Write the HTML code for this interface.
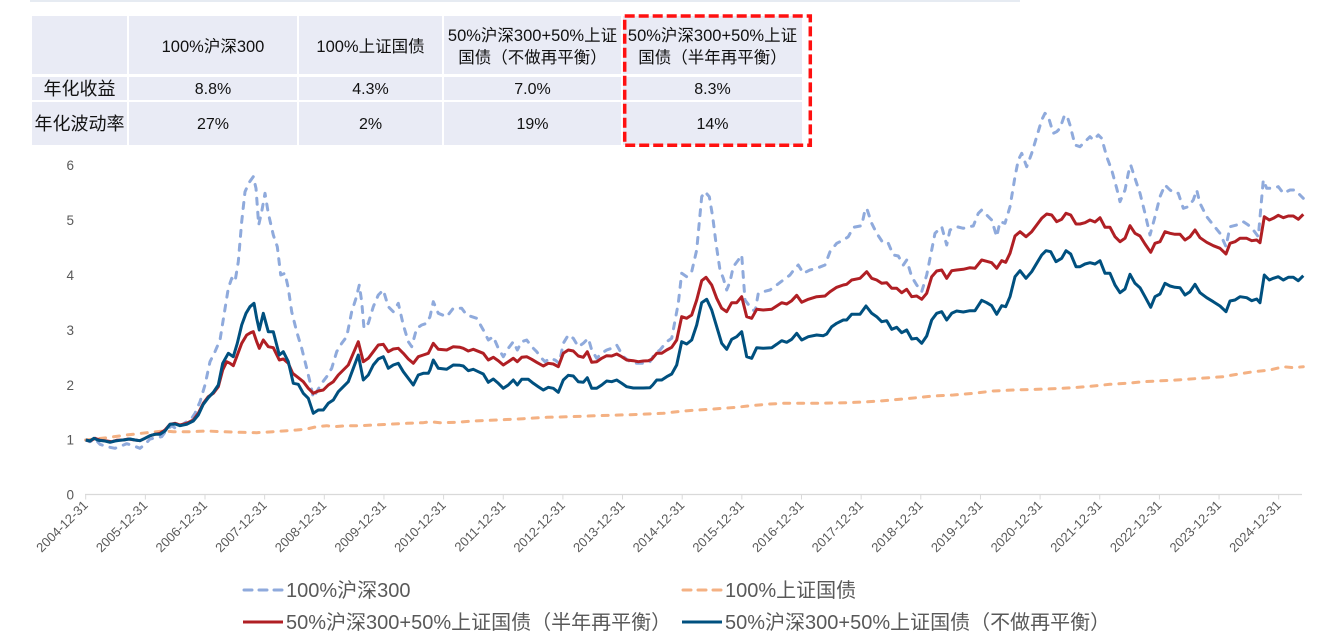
<!DOCTYPE html>
<html><head><meta charset="utf-8">
<style>
html,body{margin:0;padding:0;background:#fff;}
#wrap{position:relative;width:1337px;height:644px;overflow:hidden;font-family:"Liberation Sans","Noto Sans CJK SC",sans-serif;}
.c{position:absolute;box-sizing:border-box;padding-top:3px;background:#E9EBF5;display:flex;align-items:center;justify-content:center;text-align:center;color:#111;white-space:nowrap;font-size:16px;line-height:21.5px;}
.h{font-size:16.5px;padding-top:5px;}
.rl{font-size:18px;}
svg{position:absolute;left:0;top:0;}
</style></head>
<body><div id="wrap">
<div style="position:absolute;left:30px;top:0;width:990px;height:2px;background:#E6EBF2;"></div>
<!-- table -->
<div class="c" style="left:32px;top:16px;width:95px;height:58px;"></div>
<div class="c h" style="left:129px;top:16px;width:168px;height:58px;">100%沪深300</div>
<div class="c h" style="left:299px;top:16px;width:143px;height:58px;">100%上证国债</div>
<div class="c h" style="left:444px;top:16px;width:177px;height:58px;">50%沪深300+50%上证<br>国债（不做再平衡）</div>
<div class="c h" style="left:623px;top:16px;width:179px;height:58px;">50%沪深300+50%上证<br>国债（半年再平衡）</div>

<div class="c rl" style="left:32px;top:77px;width:95px;height:22.5px;">年化收益</div>
<div class="c" style="left:129px;top:77px;width:168px;height:22.5px;">8.8%</div>
<div class="c" style="left:299px;top:77px;width:143px;height:22.5px;">4.3%</div>
<div class="c" style="left:444px;top:77px;width:177px;height:22.5px;">7.0%</div>
<div class="c" style="left:623px;top:77px;width:179px;height:22.5px;">8.3%</div>

<div class="c rl" style="left:32px;top:102px;width:95px;height:43px;">年化波动率</div>
<div class="c" style="left:129px;top:102px;width:168px;height:43px;">27%</div>
<div class="c" style="left:299px;top:102px;width:143px;height:43px;">2%</div>
<div class="c" style="left:444px;top:102px;width:177px;height:43px;">19%</div>
<div class="c" style="left:623px;top:102px;width:179px;height:43px;">14%</div>

<svg id="chart" width="1337" height="644" viewBox="0 0 1337 644" xmlns="http://www.w3.org/2000/svg">
<rect x="624.7" y="16" width="185.6" height="129.3" fill="none" stroke="#FF1010" stroke-width="3.5" stroke-dasharray="10 4"/>
<g font-family="Liberation Sans, sans-serif" font-size="13.5" fill="#595959" text-anchor="end">
<text x="74" y="170">6</text>
<text x="74" y="225">5</text>
<text x="74" y="280">4</text>
<text x="74" y="335">3</text>
<text x="74" y="390">2</text>
<text x="74" y="444.5">1</text>
<text x="74" y="499.5">0</text>
</g>
<line x1="85" y1="494.5" x2="1302" y2="494.5" stroke="#D9D9D9" stroke-width="1.2"/>
<g id="ticks" stroke="#D9D9D9" stroke-width="1"></g>
<g id="xl" font-family="Liberation Sans, sans-serif" font-size="13" fill="#595959" text-anchor="end"></g>
<g id="series" fill="none" stroke-linejoin="round"></g>
<!-- legend -->
<g stroke-width="3" fill="none">
<line x1="244" y1="590" x2="283" y2="590" stroke="#8FAADC" stroke-dasharray="8 7" stroke-linecap="round"/>
<line x1="683" y1="590" x2="722" y2="590" stroke="#F4B183" stroke-dasharray="8 7" stroke-linecap="round"/>
<line x1="243" y1="622" x2="283" y2="622" stroke="#B01F24"/>
<line x1="682" y1="622" x2="722" y2="622" stroke="#00507F"/>
</g>
<g font-family="Liberation Sans, Noto Sans CJK SC, sans-serif" font-size="20" fill="#595959">
<text x="286" y="597">100%沪深300</text>
<text x="725" y="597">100%上证国债</text>
<text x="286" y="629">50%沪深300+50%上证国债（半年再平衡）</text>
<text x="725" y="629">50%沪深300+50%上证国债（不做再平衡）</text>
</g>
</svg>
</div>
<script>
(function(){
var NS="http://www.w3.org/2000/svg";
var ticks=document.getElementById("ticks"),xl=document.getElementById("xl");
for(var k=0;k<=20;k++){
  var x=85.7+k*59.65;
  var l=document.createElementNS(NS,"line");
  l.setAttribute("x1",x);l.setAttribute("x2",x);l.setAttribute("y1",494.5);l.setAttribute("y2",499.5);
  ticks.appendChild(l);
  var t=document.createElementNS(NS,"text");
  var tx=x+3,ty=506;
  t.setAttribute("x",tx);t.setAttribute("y",ty);
  t.setAttribute("transform","rotate(-45 "+tx+" "+ty+")");
  t.textContent=(2004+k)+"-12-31";
  xl.appendChild(t);
}
var Z={z5:[40,155],z6:[430,150],z7:[860,100]};
var R={z5:[0,430],z6:[430,862],z7:[862,2000]};
var data={
csi:{
z5:[137,855,150,860,165,852,180,868,200,875,225,880,245,872,260,866,280,872,300,880,315,868,330,852,350,848,365,845,380,825,395,812,410,822,425,810,440,800,455,790,465,775,480,740,495,690,510,620,525,590,540,555,552,480,565,400,575,370,585,380,595,320,605,200,615,110,628,82,640,65,648,100,656,210,665,170,675,115,685,175,700,240,712,275,722,360,735,355,745,400,755,470,770,530,785,580,800,640,812,690,820,728,830,710,845,685,860,665,875,640,890,590,905,565,920,545,935,470,948,430,958,390,965,440,972,520,985,505,1000,455,1015,420,1030,405,1045,455,1060,470,1075,445,1090,510,1105,560,1115,575,1130,520,1145,510,1160,505,1175,440,1190,470],
z6:[0,500,10,455,25,490,50,500,70,475,95,475,110,495,140,505,160,540,175,570,190,560,205,595,220,620,235,595,250,575,262,600,275,575,290,570,305,590,320,605,335,625,345,635,360,625,375,630,388,640,400,580,415,555,430,565,445,590,460,580,475,565,485,600,500,625,515,610,530,600,545,595,560,585,580,620,600,635,620,640,640,640,660,635,675,610,690,600,710,575,725,565,745,460,755,370,770,380,785,365,800,300,815,140,825,125,838,140,848,200,858,280,870,360,880,385,890,420,900,395,910,350,925,330,935,315,945,450,960,470,975,485,985,430,1000,425,1020,420,1040,405,1060,390,1080,375,1095,355,1105,345,1120,370,1140,360,1160,355,1185,345,1200,305,1220,280,1240,270,1255,260,1270,232,1295,227],
z7:[15,330,20,325,35,370,50,400,70,430,85,430,100,465,115,468,130,495,140,480,155,530,170,555,185,575,200,525,215,450,225,400,245,380,260,435,270,390,290,380,310,385,325,380,340,378,355,340,365,330,380,345,395,360,410,410,420,365,435,370,450,320,465,230,475,180,485,160,500,200,515,160,530,110,545,60,555,40,565,50,580,100,590,95,600,85,612,50,620,45,630,75,645,135,660,140,675,125,690,110,700,120,715,105,725,115,740,170,755,210,770,265,780,305,795,270,805,220,812,195,825,235,840,280,855,340,870,405,885,350,900,290,915,255,930,270,945,280,955,280,970,325,985,320,1000,300,1010,270,1020,310,1040,350,1060,375,1080,400,1098,440,1110,380,1130,375,1150,365,1165,375,1180,390,1195,410,1210,240,1220,265,1240,265,1255,260,1270,280,1290,270,1305,270,1320,285,1330,295]
},
bond:{
z5:[137,855,200,848,260,840,320,833,370,828,400,830,450,830,500,828,550,830,600,832,650,833,700,830,770,825,800,822,830,815,860,812,880,815,920,812,960,812,1000,810,1060,807,1100,805,1150,803],
z6:[0,815,30,818,80,817,130,813,200,810,280,806,350,802,420,800,500,797,600,794,700,790,760,783,850,777,920,772,960,767,1020,762,1060,760,1150,760,1250,758,1300,756],
z7:[10,906,60,903,120,898,170,893,220,888,280,885,340,880,400,873,460,870,560,867,640,863,700,858,750,853,800,850,850,845,950,840,1020,835,1090,830,1130,823,1180,815,1230,810,1270,800,1300,803,1330,800]
},
red:{
z5:[137,855,150,858,165,850,180,856,200,858,215,860,230,856,250,855,265,852,285,855,300,857,315,850,330,842,345,838,360,835,375,825,390,808,405,805,420,810,440,805,460,795,475,775,490,745,505,725,520,715,535,695,548,645,560,620,570,625,580,632,590,605,605,565,620,540,632,533,640,530,650,560,658,580,670,555,685,575,700,578,718,615,730,612,745,625,758,655,775,668,790,680,805,700,820,715,835,708,850,705,865,690,880,680,895,660,910,645,925,630,940,595,955,560,970,620,985,610,1000,590,1015,570,1030,568,1045,590,1060,582,1075,580,1090,595,1105,612,1120,625,1135,605,1150,600,1165,595],
z6:[0,600,10,580,25,598,50,600,70,590,90,592,100,595,115,603,130,598,145,604,160,610,175,630,190,622,205,632,220,645,235,635,250,625,262,635,275,622,290,620,305,628,320,637,340,648,355,640,370,642,385,650,400,610,415,600,430,603,445,618,460,622,472,605,485,637,500,635,515,625,530,617,545,618,560,612,575,620,590,630,610,632,625,635,640,633,655,632,665,628,680,610,695,610,710,600,725,592,740,570,755,500,770,505,785,495,800,450,815,392,828,382,845,405,860,445,875,475,890,485,905,458,920,458,935,440,950,500,965,505,980,478,1000,480,1025,478,1040,468,1055,458,1070,462,1085,452,1100,436,1115,457,1135,448,1160,440,1185,438,1200,425,1220,412,1240,405,1250,403,1265,390,1290,385],
z7:[20,515,35,535,50,540,65,550,80,548,95,565,110,565,125,578,140,568,155,590,170,588,185,598,200,580,215,530,230,513,245,510,260,535,275,512,290,510,310,508,330,503,345,505,365,480,380,484,395,488,410,505,425,482,437,487,450,460,465,408,480,395,498,410,515,395,530,375,545,355,560,342,575,345,590,365,605,358,618,340,632,345,648,372,660,372,675,368,690,360,705,366,720,353,735,382,750,382,765,410,780,425,795,415,810,377,825,400,840,408,855,432,872,457,885,430,900,425,915,395,930,400,945,403,960,403,975,420,990,410,1005,390,1020,413,1040,427,1060,437,1080,445,1098,462,1110,430,1125,425,1140,415,1160,415,1175,422,1190,420,1200,428,1213,350,1228,360,1240,355,1255,346,1270,353,1285,348,1300,348,1315,358,1330,343]
},
navy:{
z5:[137,855,150,858,162,850,175,856,195,858,210,862,225,858,240,856,255,854,270,852,285,855,300,857,315,850,330,842,345,838,360,838,375,828,390,808,405,807,420,812,440,808,460,798,475,780,490,748,505,728,520,712,535,690,548,625,565,595,580,605,592,565,605,510,618,475,630,455,642,445,650,490,658,525,670,475,685,530,700,530,718,600,730,590,745,620,760,685,775,688,790,715,805,730,820,775,835,765,850,765,865,745,880,735,895,710,910,695,925,680,940,640,955,600,970,675,985,660,1000,630,1015,612,1030,605,1045,640,1060,630,1075,625,1090,650,1105,670,1120,690,1135,660,1150,655,1165,655],
z6:[0,660,10,630,25,655,50,658,70,645,90,646,100,648,115,662,130,658,145,665,160,672,175,697,190,687,205,700,220,715,235,705,250,690,262,705,275,688,295,688,310,700,325,710,340,720,355,712,370,715,385,727,400,690,415,676,430,678,445,695,460,697,472,683,485,715,500,715,515,705,530,693,545,695,560,690,575,700,590,710,610,714,640,714,660,713,668,705,680,690,695,690,710,680,725,672,740,645,755,575,770,582,785,570,800,525,815,458,830,448,845,480,860,530,875,580,890,598,905,568,920,560,935,545,950,620,965,625,980,593,1000,595,1025,593,1040,583,1055,572,1070,577,1085,568,1100,550,1115,570,1135,560,1160,555,1180,557,1190,552,1205,530,1220,520,1240,510,1250,510,1265,493,1290,493],
z7:[18,618,35,640,50,650,65,665,80,662,95,688,110,682,125,698,140,690,155,717,170,715,185,730,200,708,215,660,230,640,245,635,260,660,275,640,290,633,310,636,330,632,345,632,365,601,380,608,395,617,410,643,425,617,437,620,450,590,465,530,480,512,498,535,515,515,530,490,545,465,558,452,572,455,588,485,605,475,618,452,632,462,648,500,660,500,675,492,690,488,705,492,720,482,735,520,750,520,765,555,780,578,795,567,810,523,825,550,840,563,855,590,872,622,885,590,900,582,915,550,930,558,945,562,960,563,975,585,990,575,1005,553,1020,578,1040,593,1060,605,1080,618,1098,635,1110,603,1125,600,1140,590,1160,593,1175,602,1190,597,1200,608,1213,525,1228,540,1240,535,1255,530,1270,540,1285,532,1300,532,1315,542,1330,527]
}
};
function pts(s){
  var out=[];
  ["z5","z6","z7"].forEach(function(z){
    var a=s[z],o=Z[z],r=R[z];
    for(var i=0;i<a.length;i+=2){
      var X=o[0]+a[i]/3,Y=o[1]+a[i+1]/3;
      if(X>=r[0]&&X<r[1]) out.push(X.toFixed(1)+","+Y.toFixed(1));
    }
  });
  return out.join(" ");
}
var sty={
 csi:{c:"#8FAADC",d:"6 8",cap:"round"},
 bond:{c:"#F4B183",d:"6 8",cap:"round"},
 red:{c:"#B01F24",d:null,cap:"butt"},
 navy:{c:"#00507F",d:null,cap:"butt"}
};
var g=document.getElementById("series");
["csi","bond","red","navy"].forEach(function(k){
  var p=document.createElementNS(NS,"polyline");
  p.setAttribute("points",pts(data[k]));
  p.setAttribute("stroke",sty[k].c);
  p.setAttribute("stroke-width","3");
  p.setAttribute("stroke-linecap",sty[k].cap);
  if(sty[k].d) p.setAttribute("stroke-dasharray",sty[k].d);
  g.appendChild(p);
});
})();
</script>
</body></html>
